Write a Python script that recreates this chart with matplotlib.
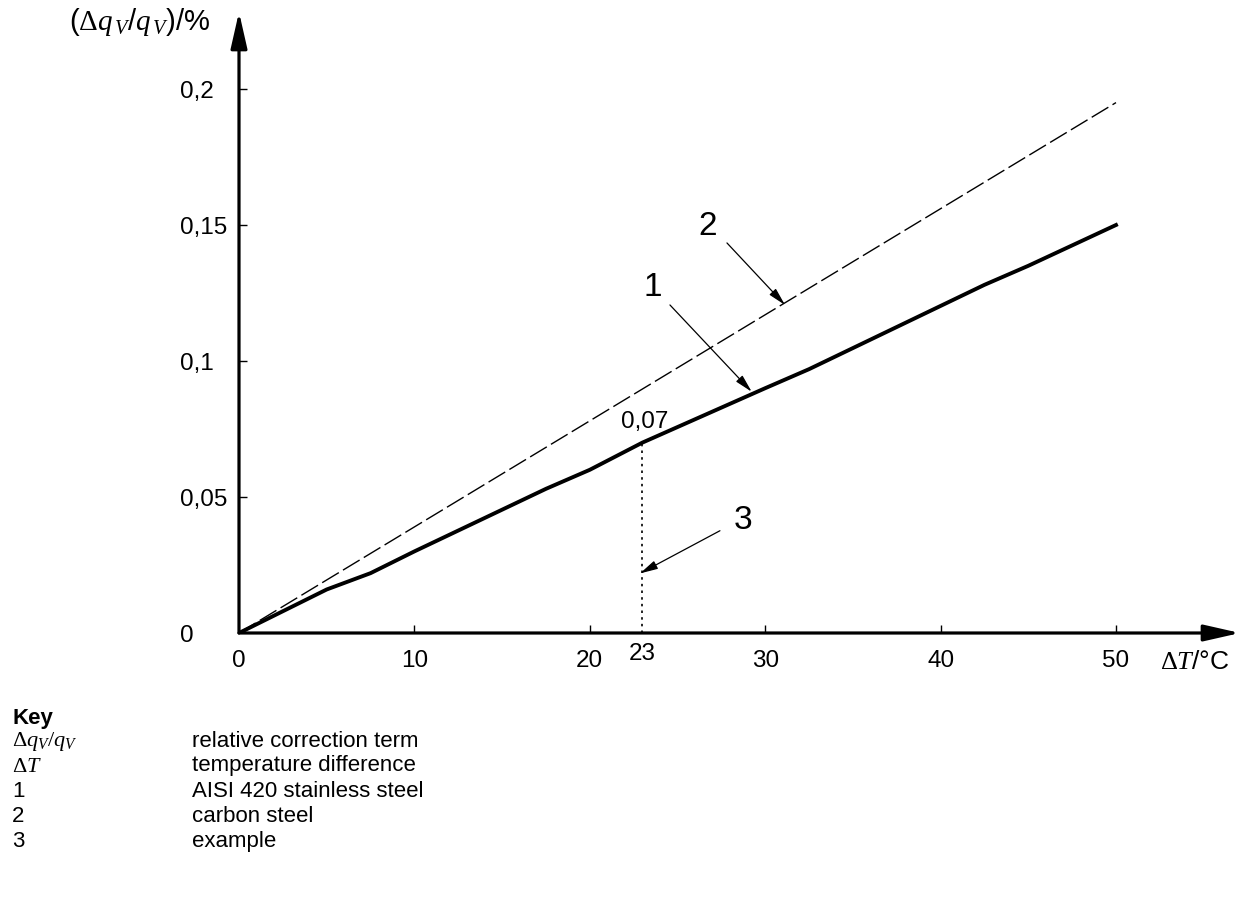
import matplotlib
matplotlib.use("Agg")
import matplotlib.pyplot as plt

plt.rcParams['font.family'] = ['Liberation Sans', 'DejaVu Sans']
plt.rcParams['mathtext.fontset'] = 'custom'
plt.rcParams['mathtext.rm'] = 'Liberation Serif'
plt.rcParams['mathtext.it'] = 'Liberation Serif:italic'

# curve 1: AISI 420 stainless steel
temp_steel = [0, 5, 7.5, 10, 17.5, 20, 23, 30, 32.5, 42.5, 45, 50]
corr_steel = [0, 0.016, 0.022, 0.030, 0.053, 0.060, 0.070, 0.090, 0.097, 0.128, 0.135, 0.150]
# curve 2: carbon steel
temp_carbon = [0, 50]
corr_carbon = [0, 0.195]
# example reading
ex_temp = 23
ex_corr = 0.07

xticks = [0, 10, 20, 30, 40, 50]
yticks = [0, 0.05, 0.1, 0.15, 0.2]
ytick_labels = ['0', '0,05', '0,1', '0,15', '0,2']

key_symbols = [r'$\Delta q_V/q_V$', r'$\Delta T$', '1', '2', '3']
key_texts = ['relative correction term', 'temperature difference',
             'AISI 420 stainless steel', 'carbon steel', 'example']

W, H = 1242, 897
fig = plt.figure(figsize=(W / 100, H / 100), dpi=100)
# axes from the origin (239, 633) to the arrow tips (1240, 12)
ax = fig.add_axes([239 / W, (H - 633) / H, (1240 - 239) / W, (633 - 12) / H])
ax.set_xlim(0, (1240 - 239) / 17.54)
ax.set_ylim(0, (633 - 12) / 2720)

for s in ax.spines.values():
    s.set_visible(False)

# axis lines with arrow heads
arr = dict(arrowstyle='-|>,head_length=1.1,head_width=0.25', lw=2.3, color='k',
           shrinkA=0, shrinkB=0, mutation_scale=20)
ax.annotate('', xy=(1, 0), xytext=(0, 0), xycoords='axes fraction', arrowprops=arr)
ax.annotate('', xy=(0, 1), xytext=(0, 0), xycoords='axes fraction', arrowprops=arr)

ax.plot(temp_carbon, corr_carbon, color='k', lw=1.0, dashes=(14, 3.5))
ax.plot(temp_steel, corr_steel, color='k', lw=2.8, solid_joinstyle='round')
ax.plot([ex_temp, ex_temp], [0, ex_corr], color='k', lw=1.2, dashes=(1.5, 2.5))

ax.set_xticks(xticks)
ax.set_xticklabels([str(t) for t in xticks])
ax.set_yticks(yticks)
ax.set_yticklabels(ytick_labels)
ax.tick_params(direction='in', length=6, width=1, labelsize=17.5)
ax.tick_params(axis='x', pad=12)
ax.tick_params(axis='y', pad=42.5)
for lab in ax.get_yticklabels():
    lab.set_horizontalalignment('left')
ax.xaxis.get_major_ticks()[0].tick1line.set_visible(False)
ax.yaxis.get_major_ticks()[0].tick1line.set_visible(False)

ax.annotate(str(ex_temp), xy=(ex_temp, 0), xytext=(0, -7), textcoords='offset points',
            ha='center', va='top', fontsize=17.5)
ax.text(ex_temp + 0.15, ex_corr + 0.0077, '0,07', ha='center', va='center', fontsize=17.5)

ax.set_ylabel(r'($\Delta q_{\,V}$/$q_{\,V}$)/%', rotation=0, ha='right', va='center', fontsize=21)
ax.yaxis.set_label_coords(-0.028, 0.984)
ax.set_xlabel(r'$\Delta T$/°C', ha='left', va='center', fontsize=19)
ax.xaxis.set_label_coords((1160 - 239) / 1001, -0.047)

# leaders
lead = dict(arrowstyle='-|>,head_length=0.9,head_width=0.22', lw=0.9, color='k',
            shrinkA=0, shrinkB=0, mutation_scale=12)
ax.text(23.6, 0.1272, '1', ha='center', va='center', fontsize=24)
ax.annotate('', xy=(29.23, 0.0887), xytext=(24.57, 0.1206), arrowprops=lead)
ax.text(26.74, 0.1493, '2', ha='center', va='center', fontsize=24)
ax.annotate('', xy=(31.13, 0.1206), xytext=(27.82, 0.1434), arrowprops=lead)
ax.text(28.73, 0.0415, '3', ha='center', va='center', fontsize=24)
ax.annotate('', xy=(22.86, 0.0219), xytext=(27.42, 0.0376), arrowprops=lead)

# key
fig.text(12 / W, 1 - 718 / H, 'Key', fontsize=16, fontweight='bold', va='center')
for i, (sym, txt) in enumerate(zip(key_symbols, key_texts)):
    y = 1 - (741 + 25 * i) / H
    fig.text(12 / W, y, sym, fontsize=16, va='center')
    fig.text(192 / W, y, txt, fontsize=16, va='center')

fig.savefig('out.png', dpi=100)
